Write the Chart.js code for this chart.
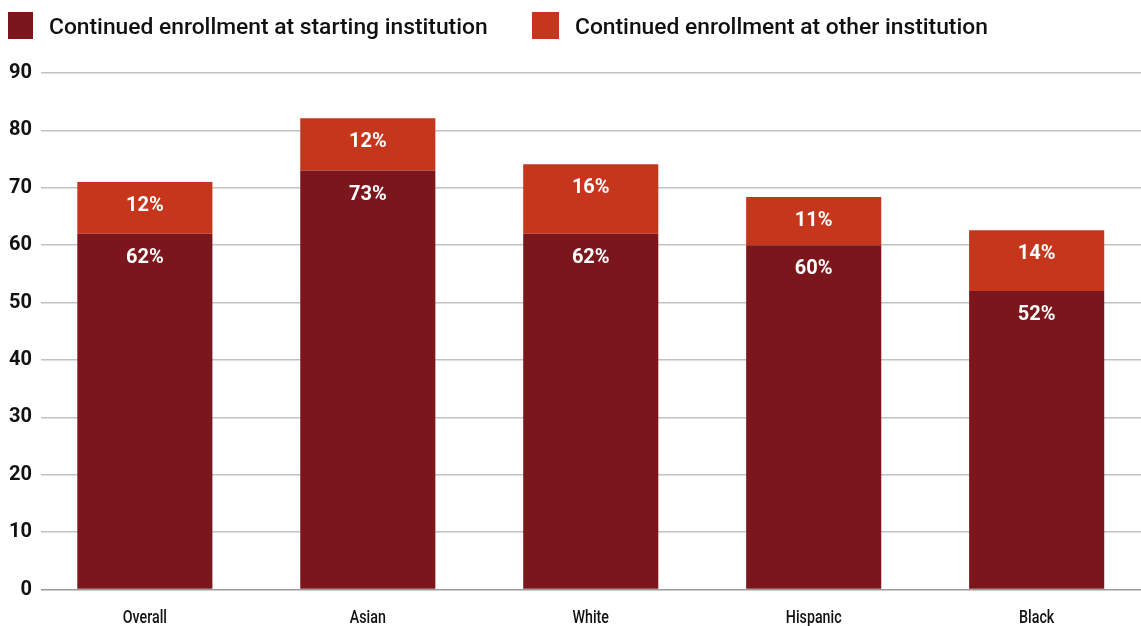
<!DOCTYPE html>
<html>
<head>
<meta charset="utf-8">
<script src="https://cdn.jsdelivr.net/npm/chart.js@4.4.1/dist/chart.umd.min.js"></script>
<style>
  html, body { margin: 0; padding: 0; background: #fff; overflow: hidden; }
  #wrap { position: relative; width: 1141px; height: 626px; overflow: hidden; }
  #legend { position: absolute; left: 0; top: 0; width: 1141px; height: 50px; font-family: Roboto, sans-serif; font-weight: 500; font-size: 22.8px; color: #111; }
  .lt { position: absolute; top: 13px; white-space: nowrap; line-height: 27px; }
</style>
</head>
<body>
<div id="wrap">
  <canvas id="c" width="1141" height="650"></canvas>
  <div id="legend"></div>
</div>
<script>
const categories = ['Overall', 'Asian', 'White', 'Hispanic', 'Black'];
const startingValues = [62, 73, 62, 60, 52];
const otherValues = [9.0, 9.1, 12.1, 8.4, 10.6];
const startingLabels = ['62%', '73%', '62%', '60%', '52%'];
const otherLabels = ['12%', '12%', '16%', '11%', '14%'];
const seriesNames = ['Continued enrollment at starting institution', 'Continued enrollment at other institution'];
const yTicks = [0, 10, 20, 30, 40, 50, 60, 70, 80, 90];
const colors = ['#7B171C', '#C5361C'];

// legend (HTML)
const legend = document.getElementById('legend');
const legendPos = [[8, 49], [532, 575]];
seriesNames.forEach((name, i) => {
  const sw = document.createElement('div');
  sw.style.position = 'absolute';
  sw.style.left = legendPos[i][0] + 'px';
  sw.style.top = '12px';
  sw.style.width = (i === 0 ? 25 : 27) + 'px';
  sw.style.height = '27px';
  sw.style.background = colors[i];
  legend.appendChild(sw);
  const t = document.createElement('div');
  t.className = 'lt';
  t.style.left = legendPos[i][1] + 'px';
  t.textContent = name;
  legend.appendChild(t);
});

const labelPlugin = {
  id: 'segLabels',
  afterDatasetsDraw(chart) {
    const ctx = chart.ctx;
    ctx.save();
    ctx.fillStyle = '#fff';
    ctx.font = 'bold 20px Roboto, sans-serif';
    ctx.textAlign = 'center';
    ctx.textBaseline = 'middle';
    const sets = [startingLabels, otherLabels];
    chart.data.datasets.forEach((ds, di) => {
      const meta = chart.getDatasetMeta(di);
      meta.data.forEach((el, i) => {
        ctx.fillText(sets[di][i], el.x, el.y + 24);
      });
    });
    ctx.restore();
    // condensed category labels on the x axis
    const xs = chart.scales.x;
    ctx.save();
    ctx.fillStyle = '#111';
    ctx.font = '500 19px Roboto, sans-serif';
    ctx.textAlign = 'center';
    ctx.textBaseline = 'middle';
    categories.forEach((c, i) => {
      const px = xs.getPixelForValue(i);
      ctx.save();
      ctx.translate(px, chart.chartArea.bottom + 29);
      ctx.scale(0.75, 1);
      ctx.fillText(c, 0, 0);
      ctx.restore();
    });
    ctx.restore();
  }
};

const ctx = document.getElementById('c').getContext('2d');
new Chart(ctx, {
  type: 'bar',
  data: {
    datasets: [
      { label: seriesNames[0], data: startingValues.map((v, i) => ({ x: i, y: v })), backgroundColor: colors[0], borderWidth: 0 },
      { label: seriesNames[1], data: otherValues.map((v, i) => ({ x: i, y: v })), backgroundColor: colors[1], borderWidth: 0 }
    ]
  },
  plugins: [labelPlugin],
  options: {
    responsive: false,
    animation: false,
    events: [],
    layout: { padding: { top: 73, right: 0, left: 0, bottom: 0 } },
    datasets: { bar: { barPercentage: 0.606, categoryPercentage: 1.0 } },
    plugins: { legend: { display: false }, tooltip: { enabled: false } },
    scales: {
      x: {
        type: 'linear',
        stacked: true,
        min: -0.466,
        max: 4.468,
        offset: false,
        grid: { display: false, drawTicks: false },
        border: { display: false },
        afterBuildTicks(scale) { scale.ticks = categories.map((c, i) => ({ value: i })); },
        ticks: {
          padding: 20,
          autoSkip: false,
          maxRotation: 0,
          color: 'rgba(0,0,0,0)',
          font: { family: 'Roboto, sans-serif', size: 17 },
          callback: (v) => categories[v]
        }
      },
      y: {
        stacked: true,
        min: 0,
        max: 90,
        afterBuildTicks(scale) { scale.ticks = yTicks.map(v => ({ value: v })); },
        grid: {
          drawTicks: false,
          lineWidth: 1.5,
          color: (c) => c.tick && c.tick.value === 0 ? '#9a9a9a' : '#c2c2c2'
        },
        border: { display: false },
        ticks: {
          padding: 9,
          color: '#111',
          font: { family: 'Roboto, sans-serif', size: 20, weight: 'bold' }
        }
      }
    }
  }
});
</script>
</body>
</html>
